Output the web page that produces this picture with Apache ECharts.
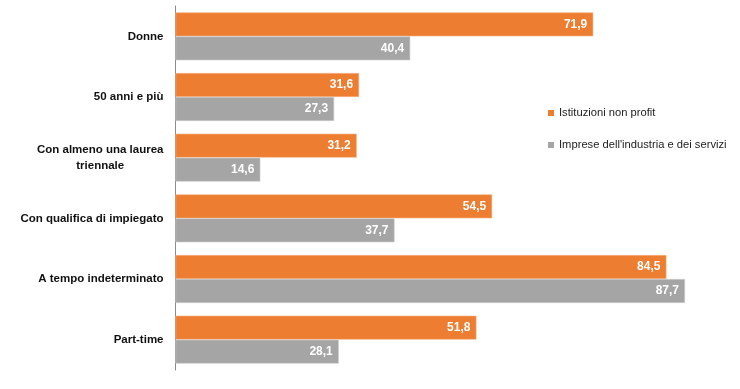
<!DOCTYPE html>
<html>
<head>
<meta charset="utf-8">
<script src="https://cdn.jsdelivr.net/npm/echarts@6/dist/echarts.min.js"></script>
<style>
html,body{margin:0;padding:0;background:#fff;}
#chart{width:740px;height:389px;}
</style>
</head>
<body>
<div id="chart"></div>
<script>
const categories = ["Donne", "50 anni e più", "Con almeno una laurea\ntriennale", "Con qualifica di impiegato", "A tempo indeterminato", "Part-time"];
const seriesNames = ["Istituzioni non profit", "Imprese dell'industria e dei servizi"];
const nonProfit = [71.9, 31.6, 31.2, 54.5, 84.5, 51.8];
const imprese = [40.4, 27.3, 14.6, 37.7, 87.7, 28.1];

const FONT = '"Liberation Sans", Arial, sans-serif';
const chart = echarts.init(document.getElementById('chart'), null, {renderer: 'canvas'});

function labelCfg() {
  return {
    show: true,
    position: 'insideRight',
    distance: 6,
    color: '#fff',
    fontFamily: FONT,
    fontWeight: 'bold',
    fontSize: 12,
    formatter: p => p.value.toFixed(1).replace('.', ',')
  };
}

chart.setOption({
  animation: false,
  backgroundColor: '#fff',
  grid: {left: 175.5, top: 6, bottom: 19, width: 5.81 * 90, containLabel: false, outerBoundsMode: 'none'},
  xAxis: {
    type: 'value', min: 0, max: 90, show: false
  },
  yAxis: {
    type: 'category',
    inverse: true,
    data: categories,
    axisLine: {show: true, lineStyle: {color: '#8c8c8c', width: 1}},
    axisTick: {show: false},
    axisLabel: {
      margin: 12,
      align: 'right',
      fontFamily: FONT,
      fontWeight: 'bold',
      fontSize: 11.5,
      color: '#111',
      formatter: v => v.split('\n').map(s => '{c|' + s + '}').join('\n'),
      rich: {c: {align: 'center', fontFamily: FONT, fontWeight: 'bold', fontSize: 11.5, color: '#111', lineHeight: 16}}
    }
  },
  legend: {
    orient: 'vertical',
    left: 543,
    top: 101,
    itemWidth: 6,
    itemHeight: 6,
    itemGap: 18,
    icon: 'rect',
    itemStyle: {borderWidth: 0},
    textStyle: {fontFamily: FONT, fontSize: 11.2, color: '#222', lineHeight: 14},
    data: seriesNames
  },
  series: [
    {
      name: seriesNames[0], type: 'bar', data: nonProfit,
      barCategoryGap: '21%', barGap: '0%',
      itemStyle: {color: '#ED7D31', borderColor: '#F6B58A', borderWidth: 0.6},
      label: labelCfg()
    },
    {
      name: seriesNames[1], type: 'bar', data: imprese,
      barCategoryGap: '21%', barGap: '0%',
      itemStyle: {color: '#A5A5A5', borderColor: '#CFCFCF', borderWidth: 0.6},
      label: labelCfg()
    }
  ]
});
</script>
</body>
</html>
